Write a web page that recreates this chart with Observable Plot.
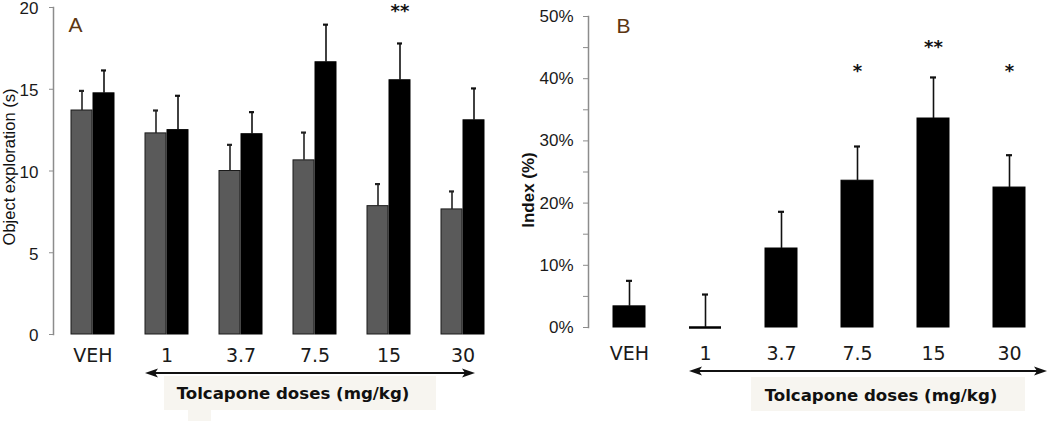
<!DOCTYPE html>
<html><head><meta charset="utf-8">
<script src="https://cdn.jsdelivr.net/npm/d3@7"></script>
<script src="https://cdn.jsdelivr.net/npm/@observablehq/plot@0.6"></script>
<style>
body{margin:0;background:#fff;}
#wrap{position:relative;width:1050px;height:421px;overflow:hidden;background:#fff;}
#a,#b{position:absolute;top:0;}
#a{left:0}
#b{left:520px}
</style></head><body><div id="wrap"><div id="a"></div><div id="b"></div></div>
<script>
// ---- data ----
const doses = ["VEH", "1", "3.7", "7.5", "15", "30"];
const aFamiliar    = [13.7, 12.3, 10.0, 10.65, 7.85, 7.65];   // grey bars
const aFamiliarErr = [1.2, 1.4, 1.6, 1.7, 1.35, 1.1];
const aNovel       = [14.75, 12.5, 12.25, 16.65, 15.55, 13.1]; // black bars
const aNovelErr    = [1.4, 2.1, 1.35, 2.3, 2.25, 1.95];
const bIndex       = [3.4, 0, 12.7, 23.6, 33.6, 22.5];        // %
const bIndexErr    = [4.1, 5.3, 5.9, 5.5, 6.6, 5.2];
const aStars = [{dose: "15", label: "**"}];
const bStars = [{dose: "7.5", label: "*"}, {dose: "15", label: "**"}, {dose: "30", label: "*"}];
const aTicks = [0, 5, 10, 15, 20];
const bTicks = [0, 5, 10, 15, 20, 25, 30, 35, 40, 45, 50];
const aYLabel = "Object exploration (s)";
const bYLabel = "Index (%)";
const xTitle = "Tolcapone doses (mg/kg)";

const grey = doses.map((d, i) => ({dose: d, v: aFamiliar[i], e: aFamiliarErr[i]}));
const black = doses.map((d, i) => ({dose: d, v: aNovel[i], e: aNovelErr[i]}));
const bData = doses.map((d, i) => ({dose: d, v: bIndex[i], e: bIndexErr[i]}));

const axisGrey = "#8c8c8c";
const tickFont = "Liberation Sans, Arial, sans-serif";
const catFont = "DejaVu Sans, Verdana, sans-serif";

// ---- panel A ----
const chartA = Plot.plot({
  width: 520, height: 421,
  marginLeft: 53, marginRight: 17, marginTop: 7, marginBottom: 87,
  style: {fontFamily: tickFont, fontSize: "16px", color: "#111", background: "transparent", overflow: "visible"},
  x: {domain: doses, paddingInner: 0.413, paddingOuter: 0.213},
  y: {domain: [0, 20]},
  marks: [
    Plot.frame({anchor: "left", stroke: axisGrey, strokeWidth: 1.5}),
    Plot.axisY({ticks: aTicks, tickSize: 4, text: null, stroke: axisGrey, label: null}),
    Plot.axisY({ticks: aTicks, tickSize: 0, tickPadding: 15, dy: 1.5, fontSize: 17, fill: "#1a1a1a", label: null}),
    Plot.axisX({tickSize: 0, tickPadding: 14, fontSize: 19, fontFamily: catFont, fill: "#1a1a1a", label: null}),
    Plot.barY(grey, {x: "dose", y: "v", fill: "#5a5a5a", stroke: "#1a1a1a", strokeWidth: 1, insetRight: 22}),
    Plot.barY(black, {x: "dose", y: "v", fill: "#000", stroke: "#000", strokeWidth: 1, insetLeft: 22}),
    Plot.ruleX(grey, {x: "dose", y1: "v", y2: d => d.v + d.e, dx: -11, stroke: "#222", strokeWidth: 1.6}),
    Plot.ruleX(black, {x: "dose", y1: "v", y2: d => d.v + d.e, dx: 11, stroke: "#111", strokeWidth: 1.6}),
    Plot.tickY(grey, {x: "dose", y: d => d.v + d.e, insetLeft: 8, insetRight: 30, stroke: "#222", strokeWidth: 2.2}),
    Plot.tickY(black, {x: "dose", y: d => d.v + d.e, insetLeft: 30, insetRight: 8, stroke: "#111", strokeWidth: 2.2}),
    Plot.text(aStars, {x: "dose", text: "label", frameAnchor: "top", lineAnchor: "top", dx: 11, dy: -3.5, fontSize: 18, fontWeight: "bold", fontFamily: catFont, fill: "#111"}),
    Plot.text(["A"], {frameAnchor: "top-left", textAnchor: "start", lineAnchor: "top", dx: 15, dy: 10, fontSize: 21, fill: "#5c3612", fontFamily: tickFont})
  ]
});
document.getElementById("a").appendChild(chartA);

// ---- panel B ----
const chartB = Plot.plot({
  width: 530, height: 421,
  marginLeft: 68, marginRight: 1, marginTop: 16, marginBottom: 94,
  style: {fontFamily: tickFont, fontSize: "16px", color: "#111", background: "transparent", overflow: "visible"},
  x: {domain: doses, paddingInner: 0.582, paddingOuter: 0.3},
  y: {domain: [0, 50]},
  marks: [
    Plot.frame({anchor: "left", stroke: axisGrey, strokeWidth: 1.5}),
    Plot.axisY({ticks: bTicks, tickFormat: d => d % 10 === 0 ? d + "%" : "", tickSize: 5, tickPadding: 10, fontSize: 17, stroke: axisGrey, fill: "#1a1a1a", label: null}),
    Plot.axisX({tickSize: 0, tickPadding: 19, fontSize: 19, fontFamily: catFont, fill: "#1a1a1a", label: null}),
    Plot.barY(bData, {x: "dose", y: "v", fill: "#000", stroke: "#000", strokeWidth: 1}),
    Plot.tickY(bData.filter(d => d.v === 0), {x: "dose", y: "v", stroke: "#000", strokeWidth: 2.5}),
    Plot.ruleX(bData, {x: "dose", y1: "v", y2: d => d.v + d.e, stroke: "#111", strokeWidth: 1.6}),
    Plot.tickY(bData, {x: "dose", y: d => d.v + d.e, insetLeft: 13, insetRight: 13, stroke: "#111", strokeWidth: 2.2}),
    Plot.text(bStars.filter(d => d.label === "*"), {x: "dose", text: "label", frameAnchor: "top", lineAnchor: "top", dy: 48, fontSize: 18, fontWeight: "bold", fontFamily: catFont, fill: "#111"}),
    Plot.text(bStars.filter(d => d.label === "**"), {x: "dose", text: "label", frameAnchor: "top", lineAnchor: "top", dy: 23.5, fontSize: 18, fontWeight: "bold", fontFamily: catFont, fill: "#111"}),
    Plot.text(["B"], {frameAnchor: "top-left", textAnchor: "start", lineAnchor: "top", dx: 28, dy: 2, fontSize: 21, fill: "#5c3612", fontFamily: tickFont})
  ]
});
document.getElementById("b").appendChild(chartB);

// ---- decorations: dose arrow, label box, y titles ----
function decorate(chart, cfg) {
  const sx = chart.scale("x");
  const bw = sx.bandwidth;
  const g = d3.select(chart).append("g");
  const boxFill = "#f7f5f0";
  const bx1 = sx.apply(cfg.boxFrom[0]) + cfg.boxFrom[1];
  const bx2 = sx.apply(cfg.boxTo[0]) + cfg.boxTo[1] * bw + cfg.boxTo[2];
  g.append("rect").attr("x", bx1).attr("y", cfg.boxY[0]).attr("width", bx2 - bx1).attr("height", cfg.boxY[1] - cfg.boxY[0]).attr("fill", boxFill);
  if (cfg.tab) {
    const tx = sx.apply(cfg.tab[0]) + bw;
    g.append("rect").attr("x", tx).attr("y", cfg.boxY[1]).attr("width", cfg.tab[1]).attr("height", 20).attr("fill", boxFill);
  }
  g.append("text").attr("x", (bx1 + bx2) / 2 - 7).attr("y", cfg.textY)
    .attr("text-anchor", "middle").attr("font-family", catFont).attr("font-weight", "bold")
    .attr("font-size", 16.6).attr("fill", "#111").text(xTitle);
  const x1 = sx.apply(cfg.arrowFrom[0]) + cfg.arrowFrom[1];
  const x2 = sx.apply(cfg.arrowTo[0]) + bw + cfg.arrowTo[1];
  const y = cfg.arrowY;
  g.append("line").attr("x1", x1 + 6).attr("x2", x2 - 6).attr("y1", y).attr("y2", y).attr("stroke", "#111").attr("stroke-width", 2);
  g.append("path").attr("d", `M${x1},${y} L${x1 + 13},${y - 4.5} L${x1 + 10},${y} L${x1 + 13},${y + 4.5} Z`).attr("fill", "#111");
  g.append("path").attr("d", `M${x2},${y} L${x2 - 13},${y - 4.5} L${x2 - 10},${y} L${x2 - 13},${y + 4.5} Z`).attr("fill", "#111");
  g.append("text").attr("transform", `translate(${cfg.yLabel[0]},${cfg.yLabel[1]}) rotate(-90)`)
    .attr("text-anchor", "middle").attr("font-family", tickFont)
    .attr("font-weight", cfg.yLabelBold ? "bold" : "normal").attr("font-size", cfg.yLabelSize)
    .attr("fill", "#111").text(cfg.yLabelText);
}

decorate(chartA, {
  boxFrom: ["1", 19], boxTo: ["30", 0, -5], boxY: [376, 410], tab: ["1", 23], textY: 399,
  arrowFrom: ["1", 0], arrowTo: ["30", -9], arrowY: 373,
  yLabel: [14.5, 167], yLabelText: aYLabel, yLabelSize: 16.5, yLabelBold: false
});
decorate(chartB, {
  boxFrom: ["3.7", -14], boxTo: ["30", 1, 0], boxY: [377, 411], textY: 401,
  arrowFrom: ["1", 0], arrowTo: ["30", 22], arrowY: 371,
  yLabel: [14, 190], yLabelText: bYLabel, yLabelSize: 17, yLabelBold: true
});
</script>
</body></html>
